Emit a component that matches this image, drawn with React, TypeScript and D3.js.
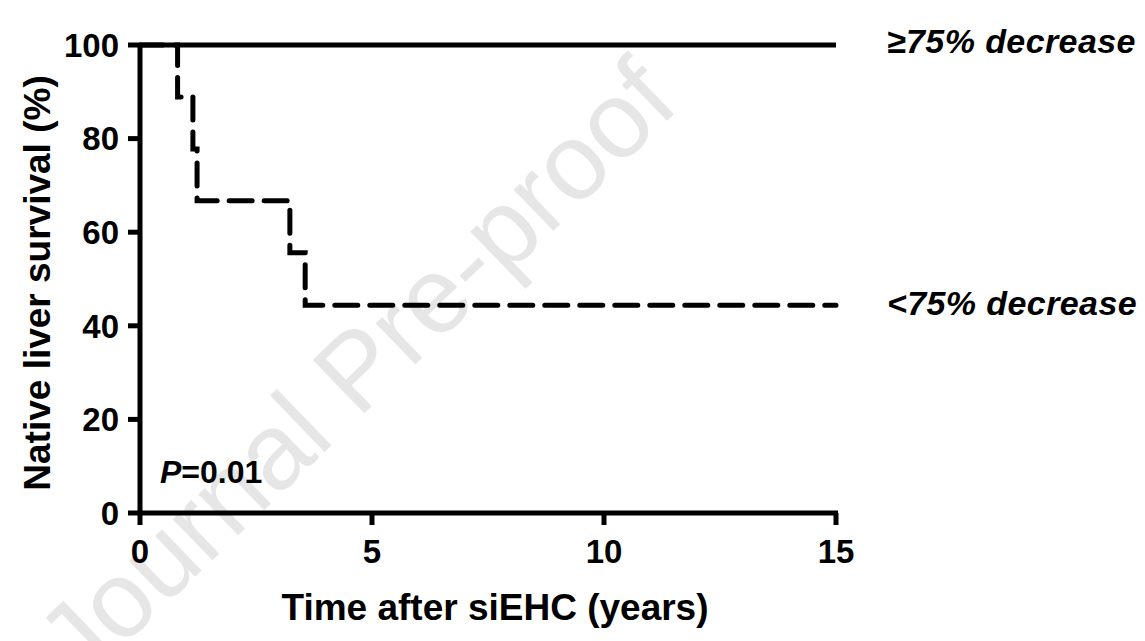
import React from "react";
import * as d3 from "d3";

const xTicks = [0, 5, 10, 15];
const yTicks = [0, 20, 40, 60, 80, 100];
const groupHighTimes = [0, 15];
const groupHighSurv = [100, 100];
const groupLowTimes = [0, 0.81, 1.14, 1.23, 3.23, 3.56, 15];
const groupLowSurv = [100, 88.9, 77.8, 66.7, 55.6, 44.4, 44.4];
const seriesLabels = ["≥75% decrease", "<75% decrease"];

export default function App() {
  const W = 1145, H = 641;
  const x = d3.scaleLinear().domain([0, 15]).range([140, 836]);
  const y = d3.scaleLinear().domain([0, 100]).range([513, 45]);
  const line = d3.line<[number, number]>().x(d => x(d[0])).y(d => y(d[1])).curve(d3.curveStepAfter);
  const high = groupHighTimes.map((t, i) => [t, groupHighSurv[i]] as [number, number]);
  const low = groupLowTimes.map((t, i) => [t, groupLowSurv[i]] as [number, number]);
  const font = "'Liberation Sans', Arial, Helvetica, sans-serif";
  return (
    <svg width={W} height={H} style={{ position: "absolute", left: 0, top: 0 }} fontFamily={font}>
      <rect width={W} height={H} fill="#fff" />
      <text x={0} y={0} transform="translate(362,376) rotate(-44)" textAnchor="middle" fontSize={108} fill="#e6e6e6" dominantBaseline="middle">Journal Pre-proof</text>
      {/* axes */}
      <line x1={x(0)} x2={x(0)} y1={y(0) + 2} y2={y(100) - 2} stroke="#000" strokeWidth={5} />
      <line x1={x(0) - 2} x2={x(15) + 2} y1={y(0)} y2={y(0)} stroke="#000" strokeWidth={5} />
      {yTicks.map(t => (
        <g key={"y" + t}>
          <line x1={x(0) - 12} x2={x(0)} y1={y(t)} y2={y(t)} stroke="#000" strokeWidth={5} />
          <text x={x(0) - 21} y={y(t)} dy="0.36em" textAnchor="end" fontSize={33} fontWeight="bold">{t}</text>
        </g>
      ))}
      {xTicks.map(t => (
        <g key={"x" + t}>
          <line x1={x(t)} x2={x(t)} y1={y(0)} y2={y(0) + 12} stroke="#000" strokeWidth={5} />
          <text x={x(t)} y={y(0) + 50} textAnchor="middle" fontSize={33} fontWeight="bold">{t}</text>
        </g>
      ))}
      <text x={495} y={620} textAnchor="middle" fontSize={37} fontWeight="bold">Time after siEHC (years)</text>
      <text transform={`translate(50,283) rotate(-90)`} textAnchor="middle" fontSize={37} fontWeight="bold">Native liver survival (%)</text>
      {/* curves */}
      <path d={line(high) || ""} fill="none" stroke="#000" strokeWidth={5} />
      <path d={line(low) || ""} fill="none" stroke="#000" strokeWidth={5} strokeDasharray="23 12" strokeLinecap="round" />
      <text x={887} y={y(100) + 8} fontSize={34} fontWeight="bold" fontStyle="italic" letterSpacing={0.4}>{seriesLabels[0]}</text>
      <text x={887} y={y(44.4) + 10} fontSize={34} fontWeight="bold" fontStyle="italic" letterSpacing={0.4}>{seriesLabels[1]}</text>
      <text x={160} y={483} fontSize={32} fontWeight="bold"><tspan fontStyle="italic">P</tspan>=0.01</text>
    </svg>
  );
}
